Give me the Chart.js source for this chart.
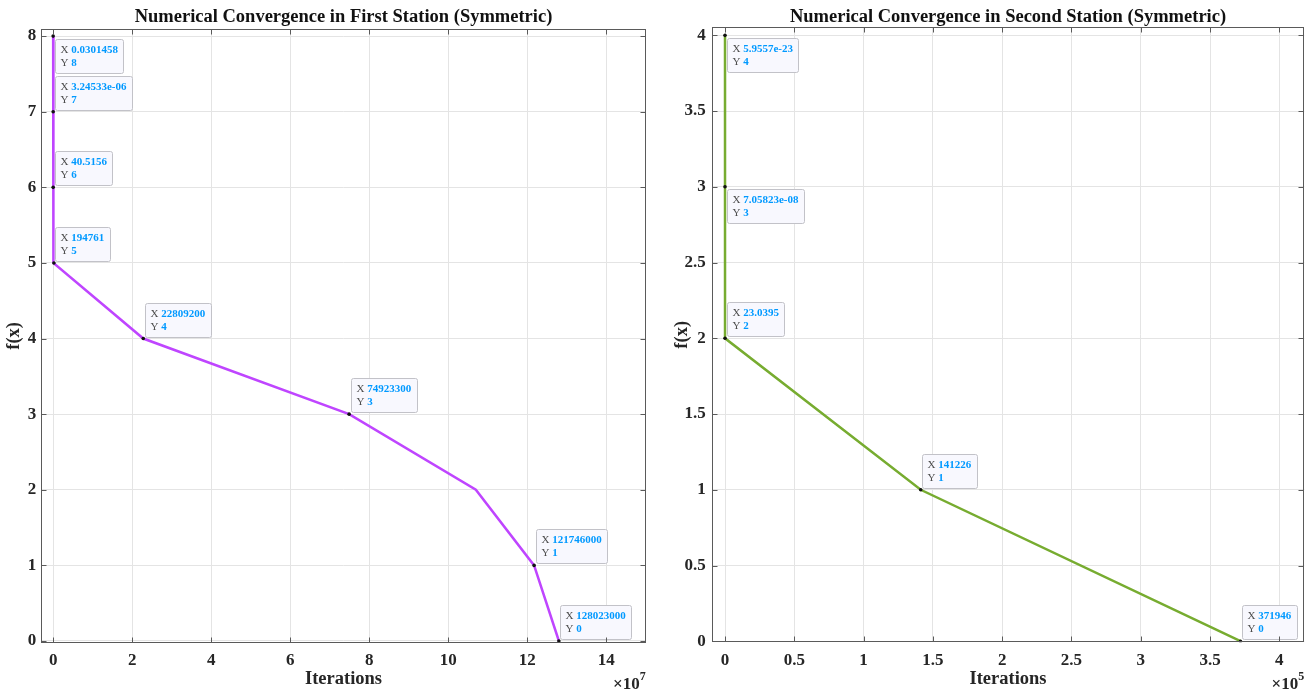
<!DOCTYPE html>
<html>
<head>
<meta charset="utf-8">
<script src="https://cdn.jsdelivr.net/npm/chart.js@4.4.1/dist/chart.umd.min.js"></script>
<style>
  body { margin: 0; background: #fff; }
  #wrap { position: relative; width: 1313px; height: 693px; overflow: hidden; }
  canvas { position: absolute; top: 0; }
  #chart1 { left: 0; }
  #chart2 { left: 660px; }
</style>
</head>
<body>
<div id="wrap">
  <canvas id="chart1" width="660" height="693"></canvas>
  <canvas id="chart2" width="653" height="693"></canvas>
</div>
<script>
// first station: iterations needed to reach each f(x) level
var firstIters = [0.0301458, 3.24533e-06, 40.5156, 194761, 22809200, 74923300, 107000000, 121746000, 128023000];
var firstLevels = [8, 7, 6, 5, 4, 3, 2, 1, 0];
var firstTipped = [true, true, true, true, true, true, false, true, true];

// second station
var secondIters = [5.9557e-23, 7.05823e-08, 23.0395, 141226, 371946];
var secondLevels = [4, 3, 2, 1, 0];
var secondTipped = [true, true, true, true, true];

var firstXTicks = [0, 2e7, 4e7, 6e7, 8e7, 10e7, 12e7, 14e7];
var firstXTickLabels = ['0', '2', '4', '6', '8', '10', '12', '14'];
var firstYTicks = [0, 1, 2, 3, 4, 5, 6, 7, 8];
var firstYTickLabels = ['0', '1', '2', '3', '4', '5', '6', '7', '8'];

var secondXTicks = [0, 0.5e5, 1e5, 1.5e5, 2e5, 2.5e5, 3e5, 3.5e5, 4e5];
var secondXTickLabels = ['0', '0.5', '1', '1.5', '2', '2.5', '3', '3.5', '4'];
var secondYTicks = [0, 0.5, 1, 1.5, 2, 2.5, 3, 3.5, 4];
var secondYTickLabels = ['0', '0.5', '1', '1.5', '2', '2.5', '3', '3.5', '4'];

var serif = '"Liberation Serif", "Times New Roman", serif';

// %g-like text with 6 significant digits, as the data tips print it
function tipText(v) {
    if (v !== 0 && Math.abs(v) < 1e-4) {
        var parts = v.toExponential(5).split('e');
        var mant = parts[0].replace(/\.?0+$/, '');
        var exp = parseInt(parts[1], 10);
        var digits = String(Math.abs(exp));
        if (digits.length < 2) digits = '0' + digits;
        return mant + 'e' + (exp < 0 ? '-' : '+') + digits;
    }
    return String(Number(v.toPrecision(6)));
}

// boxed axes, inward ticks, title over the plot box, x10^n note and data tips
var matlabAxes = {
    id: 'matlabAxes',
    beforeDatasetsDraw: function(chart, args, opts) {
        var ctx = chart.ctx;
        var xs = chart.scales.x, ys = chart.scales.y;
        var pts = chart.data.datasets[0].data;
        ctx.save();
        pts.forEach(function(pt, i) {
            if (!opts.tipped[i]) return;
            var px = xs.getPixelForValue(pt.x);
            var py = ys.getPixelForValue(pt.y);
            var xl = tipText(pt.x), yl = tipText(pt.y);
            ctx.font = '11px ' + serif;
            var wx = ctx.measureText('X ').width, wy = ctx.measureText('Y ').width;
            ctx.font = 'bold 11px ' + serif;
            var w = Math.max(wx + ctx.measureText(xl).width, wy + ctx.measureText(yl).width) + 11;
            var h = 34;
            var bx = Math.round(px + 1.5) + 0.5;
            var by = Math.round(opts.below[i] ? py + 2.5 : py - 2 - h) + 0.5;
            ctx.beginPath();
            ctx.roundRect(bx, by, Math.round(w), h, 2);
            ctx.fillStyle = '#f8f8fe';
            ctx.fill();
            ctx.strokeStyle = '#c2c2c8';
            ctx.lineWidth = 1;
            ctx.stroke();
            ctx.textBaseline = 'middle';
            ctx.textAlign = 'left';
            ctx.font = '11px ' + serif;
            ctx.fillStyle = '#4d4d4d';
            ctx.fillText('X', bx + 5, by + 11);
            ctx.fillText('Y', bx + 5, by + 24);
            ctx.font = 'bold 11px ' + serif;
            ctx.fillStyle = '#0099ff';
            ctx.fillText(xl, bx + 5 + wx, by + 11);
            ctx.fillText(yl, bx + 5 + wy, by + 24);
        });
        ctx.restore();
    },
    afterDraw: function(chart, args, opts) {
        var ctx = chart.ctx;
        var a = chart.chartArea;
        var xs = chart.scales.x, ys = chart.scales.y;
        var l = Math.round(a.left) + 0.5, r = Math.round(a.right) - 0.5;
        var t = Math.round(a.top) + 0.5, b = Math.round(a.bottom) - 0.5;
        ctx.save();
        ctx.strokeStyle = '#5a5a5a';
        ctx.lineWidth = 1;
        ctx.beginPath();
        xs.ticks.forEach(function(tk) {
            var x = Math.round(xs.getPixelForValue(tk.value)) + 0.5;
            ctx.moveTo(x, b); ctx.lineTo(x, b - 5);
            ctx.moveTo(x, t); ctx.lineTo(x, t + 5);
        });
        ys.ticks.forEach(function(tk) {
            var y = Math.round(ys.getPixelForValue(tk.value)) + 0.5;
            ctx.moveTo(l, y); ctx.lineTo(l + 5, y);
            ctx.moveTo(r, y); ctx.lineTo(r - 5, y);
        });
        ctx.stroke();
        ctx.strokeRect(l, t, r - l, b - t);

        // title centred over the plot box
        ctx.fillStyle = '#111';
        ctx.textAlign = 'center';
        ctx.textBaseline = 'middle';
        ctx.font = 'bold 18.5px ' + serif;
        ctx.fillText(opts.title, (a.left + a.right) / 2, 17);

        // exponent note under the right end of the x axis
        ctx.fillStyle = '#262626';
        ctx.textBaseline = 'alphabetic';
        ctx.textAlign = 'left';
        ctx.font = 'bold 12px ' + serif;
        var ws = ctx.measureText(opts.exponent).width;
        ctx.font = 'bold 17px ' + serif;
        var wb = ctx.measureText('\u00d710').width;
        var x0 = a.right - wb - ws;
        ctx.fillText('\u00d710', x0, 689);
        ctx.font = 'bold 12px ' + serif;
        ctx.fillText(opts.exponent, x0 + wb, 680);
        ctx.restore();
    }
};

function buildChart(canvasId, cfg) {
    var tickFont = { family: serif, size: 17, weight: 'bold' };
    return new Chart(document.getElementById(canvasId), {
        type: 'line',
        data: {
            datasets: [{
                data: cfg.xs.map(function(x, i) { return { x: x, y: cfg.ys[i] }; }),
                borderColor: cfg.color,
                borderWidth: 2.5,
                pointRadius: cfg.tipped.map(function(t) { return t ? 1.8 : 0; }),
                pointBackgroundColor: '#111',
                pointBorderWidth: 0,
                tension: 0,
                fill: false
            }]
        },
        plugins: [matlabAxes],
        options: {
            responsive: false,
            animation: false,
            layout: { padding: { left: 0, right: cfg.padRight, top: cfg.padTop, bottom: 0 } },
            plugins: {
                legend: { display: false },
                tooltip: { enabled: false },
                title: { display: false },
                matlabAxes: { title: cfg.title, tipped: cfg.tipped, below: cfg.below, exponent: cfg.exponent }
            },
            scales: {
                x: {
                    type: 'linear',
                    min: cfg.xMin,
                    max: cfg.xMax,
                    afterBuildTicks: function(s) { s.ticks = cfg.xTicks.map(function(v) { return { value: v }; }); },
                    afterFit: function(s) { s.height = cfg.xHeight; },
                    ticks: {
                        callback: function(v, i) { return cfg.xTickLabels[i]; },
                        font: tickFont, color: '#262626', padding: 8,
                        maxRotation: 0, autoSkip: false
                    },
                    grid: { color: '#e4e4e4', drawTicks: false },
                    border: { display: false },
                    title: {
                        display: true, text: 'Iterations', color: '#262626',
                        font: { family: serif, size: 18.5, weight: 'bold' },
                        padding: { top: 0, bottom: 3 }
                    }
                },
                y: {
                    type: 'linear',
                    min: cfg.yMin,
                    max: cfg.yMax,
                    afterBuildTicks: function(s) { s.ticks = cfg.yTicks.map(function(v) { return { value: v }; }); },
                    afterFit: function(s) { s.width = cfg.yWidth; },
                    ticks: {
                        callback: function(v, i) { return cfg.yTickLabels[i]; },
                        font: tickFont, color: '#262626', padding: cfg.yPad,
                        autoSkip: false
                    },
                    grid: { color: '#e4e4e4', drawTicks: false },
                    border: { display: false },
                    title: {
                        display: true, text: 'f(x)', color: '#262626',
                        font: { family: serif, size: 18.5, weight: 'bold' },
                        padding: { top: cfg.yTitlePad, bottom: 0 }
                    }
                }
            }
        }
    });
}

buildChart('chart1', {
    title: 'Numerical Convergence in First Station (Symmetric)',
    xs: firstIters, ys: firstLevels, tipped: firstTipped,
    below: [true, false, false, false, false, false, false, false, false],
    color: '#bf45ff',
    xMin: -3e6, xMax: 1.5e8, yMin: -0.02, yMax: 8.09,
    xTicks: firstXTicks, xTickLabels: firstXTickLabels,
    yTicks: firstYTicks, yTickLabels: firstYTickLabels,
    exponent: '7',
    padRight: 14.3, padTop: 29.3,
    xHeight: 50.5, yWidth: 41.3, yPad: 5, yTitlePad: 3
});

buildChart('chart2', {
    title: 'Numerical Convergence in Second Station (Symmetric)',
    xs: secondIters, ys: secondLevels, tipped: secondTipped,
    below: [true, true, false, false, false],
    color: '#77ac30',
    xMin: -9600, xMax: 418000, yMin: -0.007, yMax: 4.053,
    xTicks: secondXTicks, xTickLabels: secondXTickLabels,
    yTicks: secondYTicks, yTickLabels: secondYTickLabels,
    exponent: '5',
    padRight: 8.7, padTop: 27.3,
    xHeight: 50.7, yWidth: 51.7, yPad: 6, yTitlePad: 11
});
</script>
</body>
</html>
